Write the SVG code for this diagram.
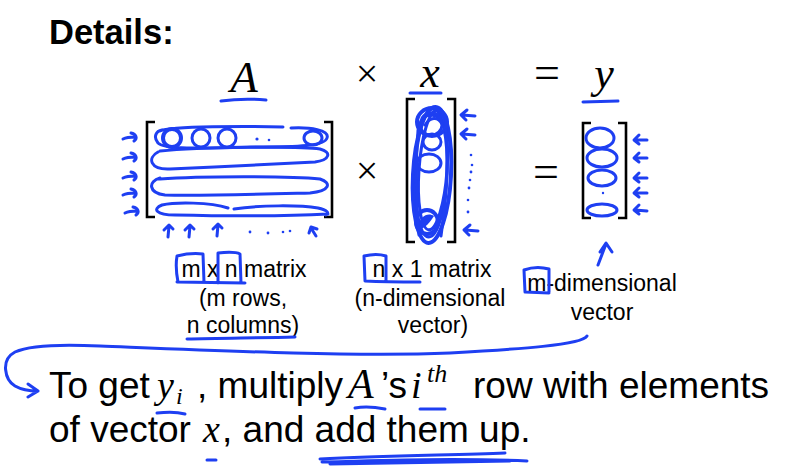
<svg xmlns="http://www.w3.org/2000/svg" width="809" height="471" viewBox="0 0 809 471">
<style>
.t{font-family:"Liberation Sans",Arial,sans-serif;fill:#000}
.m{font-family:"Liberation Serif","Times New Roman",serif;font-style:italic;fill:#000}
.s{font-family:"Liberation Serif","Times New Roman",serif;fill:#000}
.lab{font-size:23px;text-anchor:middle}
.body{font-size:37px}
.br{fill:none;stroke:#000;stroke-width:2.6}
.ink{fill:none;stroke:#1e3ff2;stroke-width:3;stroke-linecap:round;stroke-linejoin:round}
.thick{stroke-width:4}
.dot{fill:#1e3ff2}
</style>
<rect width="809" height="471" fill="#fff"/>
<g id="title"><text class="t" x="49" y="44" font-size="34.5" font-weight="bold">Details:</text></g>

<g id="equation-top">
<text class="m" x="244" y="92" font-size="45" text-anchor="middle">A</text>
<text class="s" x="367" y="87" font-size="40" text-anchor="middle">×</text>
<text class="m" x="430" y="87" font-size="44" text-anchor="middle">x</text>
<text class="s" x="547" y="88" font-size="46" text-anchor="middle">=</text>
<text class="m" x="604" y="88" font-size="44" text-anchor="middle">y</text>
</g>

<g id="matrix-A">
<path class="br" d="M155,122 H147 V217 H155 M324,122 H332 V217 H324"/>
<path class="ink" d="M160,131 C170,126 250,126 283,127 M291,128 C310,127 330,130 327,138 C325,146 300,147 250,147 C200,148 165,150 158,143 C153,137 156,131 162,130"/>
<circle class="ink thick" cx="172" cy="138" r="9"/>
<circle class="ink" cx="201" cy="138" r="9"/>
<circle class="ink" cx="227" cy="138" r="9"/>
<ellipse class="ink" cx="313" cy="138" rx="9" ry="7"/>
<circle class="dot" cx="257" cy="139" r="1.6"/>
<circle class="dot" cx="269" cy="140" r="1.3"/>
<path class="ink" d="M160,151 C200,147 300,146 320,149 C332,152 330,160 315,162 C280,164 220,167 170,169 C150,170 147,158 158,152"/>
<path class="ink" d="M160,179 C200,176 290,176 320,179 C332,183 330,191 310,193 C270,194 200,196 165,195 C148,193 148,181 160,178"/>
<path class="ink" d="M228,208 C210,202 175,202 162,205 C152,209 156,215 175,215 C220,216 290,216 328,214 M234,209 C260,205 300,205 318,208 C327,210 330,213 326,215"/>
</g>

<g id="row-arrows-A">
<path class="ink" d="M123,139 C127,137 131,137 135,137 M131,133 C136,134 138,138 134,141"/>
<path class="ink" d="M123,159 C127,157 131,157 135,157 M131,153 C136,154 138,158 134,161"/>
<path class="ink" d="M123,178 C127,176 131,176 135,176 M131,172 C136,173 138,177 134,180"/>
<path class="ink" d="M123,195 C127,193 131,193 135,193 M131,189 C136,190 138,194 134,197"/>
<path class="ink" d="M125,213 C129,211 133,211 137,211 M133,207 C138,208 140,212 136,215"/>
</g>

<g id="col-arrows-A">
<path class="ink" d="M168,237 L169,226 M164,230 L169,225 L173,229"/>
<path class="ink" d="M189,237 L190,226 M185,230 L190,225 L194,229"/>
<path class="ink" d="M217,236 L218,225 M213,229 L218,224 L222,228"/>
<path class="ink" d="M316,236 L311,228 M309,233 L311,227 L317,229"/>
<circle class="dot" cx="250" cy="232" r="1.4"/>
<circle class="dot" cx="268" cy="233" r="1.4"/>
<circle class="dot" cx="283" cy="232" r="1.3"/>
<circle class="dot" cx="290" cy="231" r="1.3"/>
</g>

<g id="times2"><text class="s" x="367" y="184" font-size="40" text-anchor="middle">×</text></g>

<g id="vector-x">
<path class="br" d="M415,99 H407 V242 H415 M447,99 H455 V242 H447"/>
<ellipse class="ink thick" cx="432" cy="175" rx="19" ry="68" transform="rotate(3 432 175)"/>
<ellipse class="ink" cx="431" cy="173" rx="16" ry="64" transform="rotate(2 431 173)"/>
<ellipse class="ink" cx="433" cy="170" rx="14" ry="60" transform="rotate(4 433 170)"/>
<ellipse class="ink thick" cx="432" cy="122" rx="15" ry="14"/>
<ellipse class="ink" cx="431" cy="125" rx="11" ry="10"/>
<path class="ink" d="M422,118 C426,112 436,110 440,118 M425,125 C430,117 438,116 442,124"/>
<ellipse class="ink" cx="432" cy="142" rx="9" ry="8"/>
<ellipse class="ink" cx="429" cy="163" rx="12" ry="9"/>
<ellipse class="ink thick" cx="427" cy="222" rx="11" ry="12"/>
<path class="dot" d="M418,226 C420,216 428,212 434,216 C430,222 426,228 418,230 Z"/>
<path class="ink" d="M418,130 C415,170 416,200 419,235 M446,130 C449,170 446,200 441,236"/>
</g>

<g id="row-arrows-x">
<path class="ink" d="M475,116 L462,115 M467,110 L461,115 L466,120"/>
<path class="ink" d="M475,135 L462,134 M467,129 L461,134 L466,139"/>
<path class="ink" d="M478,231 L465,230 M470,225 L464,230 L469,235"/>
<circle class="dot" cx="471" cy="155" r="1.3"/>
<circle class="dot" cx="472" cy="165" r="1.3"/>
<circle class="dot" cx="471" cy="172" r="1.4"/>
<circle class="dot" cx="470" cy="180" r="1.3"/>
<circle class="dot" cx="469" cy="188" r="1.4"/>
<circle class="dot" cx="468" cy="200" r="1.3"/>
<circle class="dot" cx="468" cy="212" r="1.4"/>
</g>

<g id="equals2"><text class="s" x="546" y="187" font-size="46" text-anchor="middle">=</text></g>

<g id="vector-y">
<path class="br" d="M591,123 H583 V218 H591 M618,123 H626 V218 H618"/>
<ellipse class="ink" cx="600" cy="138" rx="14" ry="10"/>
<ellipse class="ink" cx="602" cy="158" rx="15" ry="9"/>
<ellipse class="ink" cx="602" cy="178" rx="14" ry="8"/>
<circle class="dot" cx="603" cy="193" r="1.2"/>
<ellipse class="ink" cx="602" cy="210" rx="15" ry="6"/>
<path class="ink" d="M647,140 L635,140 M639,135 L634,140 L639,144"/>
<path class="ink" d="M647,158 L635,158 M639,153 L634,158 L639,162"/>
<path class="ink" d="M647,178 L635,178 M639,173 L634,178 L639,182"/>
<path class="ink" d="M647,193 L635,193 M639,188 L634,193 L639,197"/>
<path class="ink" d="M647,211 L635,210 M639,205 L634,210 L639,214"/>
</g>

<g id="underlines-top">
<path class="ink" d="M221,101 C235,99 255,99 266,100"/>
<path class="ink" d="M410,93 L441,93"/>
<path class="ink" d="M583,102 L618,101"/>
</g>

<g id="label-A">
<text class="t lab" x="244" y="277">m x n matrix</text>
<text class="t lab" x="243" y="306">(m rows,</text>
<text class="t lab" x="243" y="333">n columns)</text>
<path class="ink" d="M178,282 C176,272 176,262 177,256 C185,254 195,253 203,254 L204,282 M177,282 L245,283 M218,283 L218,253 C228,252 236,252 240,254 L241,283"/>
<path class="ink" d="M187,339 C220,338 260,338 295,337"/>
</g>

<g id="label-x">
<text class="t lab" x="432" y="277">n x 1 matrix</text>
<text class="t lab" x="430" y="306">(n-dimensional</text>
<text class="t lab" x="433" y="333">vector)</text>
<path class="ink" d="M365,281 L364,256 C372,254 380,254 386,256 L386,281 M365,281 C385,282 405,282 420,282"/>
</g>

<g id="label-y">
<text class="t lab" x="602" y="291">m-dimensional</text>
<text class="t lab" x="602" y="320">vector</text>
<path class="ink" d="M525,292 L524,270 C532,267 542,267 549,269 L549,292 M525,292 L549,293"/>
<path class="ink" d="M598,265 L606,244 M600,252 L606,243 L612,252"/>
</g>

<g id="connectors">
<path class="ink" d="M587,336 C582,345 520,349 450,353 C350,357 200,350 100,346 C60,344 30,345 15,352 C0,360 5,380 15,386 C22,390 30,391 38,391 M28,384 L38,391 L28,397"/>
</g>

<g id="body">
<text class="t body" x="49" y="398">To get</text>
<text class="m" x="157" y="398" font-size="38">y</text>
<text class="m" x="176" y="404" font-size="24">i</text>
<text class="t body" x="197" y="398">, multiply</text>
<text class="m" x="348" y="398" font-size="42">A</text>
<text class="t body" x="381" y="398">’s</text>
<text class="m" x="411" y="398" font-size="38">i</text>
<text class="m" x="427" y="382" font-size="26">th</text>
<text class="t body" x="473" y="398">row with elements</text>
<text class="t body" x="49" y="442">of vector</text>
<text class="m" x="203" y="442" font-size="38">x</text>
<text class="t body" x="222" y="442">, and add them up.</text>
<path class="ink" d="M157,413 C165,412 178,412 185,414"/>
<path class="ink" d="M355,408 C365,406 375,407 385,409"/>
<path class="ink" d="M420,409 L445,409"/>
<path class="ink" d="M207,460 L216,460"/>
<path class="ink" d="M320,459 C380,456 450,455 505,453 M322,462 C390,460 460,458 527,461 M330,464 C400,463 460,462 510,461"/>
</g>
</svg>
